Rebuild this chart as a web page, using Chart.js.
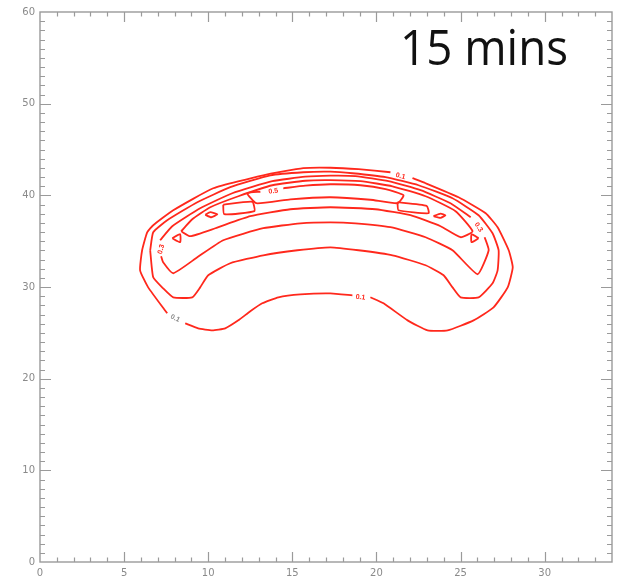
<!DOCTYPE html>
<html>
<head>
<meta charset="utf-8">
<script src="https://cdn.jsdelivr.net/npm/chart.js@4/dist/chart.umd.min.js"></script>
<style>
  html, body { margin: 0; padding: 0; background: #fff; }
  #wrap { width: 620px; height: 577px; }
</style>
</head>
<body>
<div id="wrap"><canvas id="c" width="620" height="577"></canvas></div>
<script>
// Axis tick labels
const xTicks = [0, 5, 10, 15, 20, 25, 30];
const yTicks = [0, 10, 20, 30, 40, 50, 60];

// Contour level 0.1 (outermost, broken where its labels sit)
const level01 = [
  [[8.63,26.04],[9.4,25.49],[10.24,25.27],[11.01,25.49],[11.79,26.36],[12.5,27.35],[13.21,28.22],[14.17,28.88],[15.48,29.2],[17.26,29.31],[18.57,29.09]],
  [[19.64,28.88],[20.42,28.22],[21.85,26.36],[23.04,25.27],[24.23,25.27],[25.77,26.36],[26.96,27.78],[27.8,29.96],[28.1,32.15],[27.86,34.01],[27.2,36.52],[26.49,38.05],[24.88,39.79],[22.92,41.32],[22.14,41.87]],
  [[20.83,42.52],[18.93,42.85],[17.26,43.01],[15.65,42.96],[13.27,42.19],[10.3,40.77],[7.92,38.37],[6.73,36.74],[6.37,35.97],[6.07,34.01],[5.95,31.82],[6.43,29.96],[7.56,27.13]]
];

// Contour level 0.2
const level02 = [
  [[6.55,34.0],[6.73,35.97],[7.56,37.28],[9.35,39.25],[11.31,40.89],[13.69,42.19],[15.65,42.52],[17.26,42.58],[18.57,42.41],[20.54,41.98],[22.5,41.1],[24.52,39.68],[26.07,37.83],[26.9,35.86],[27.26,34.01],[27.2,31.82],[26.9,30.4],[26.07,28.87],[25.0,28.87],[24.52,29.96],[23.99,31.28],[22.92,32.37],[20.95,33.46],[18.93,34.01],[17.26,34.33],[15.3,34.01],[13.27,33.46],[11.31,32.59],[10.0,31.28],[9.52,29.96],[9.05,28.87],[7.92,28.87],[7.32,29.85],[6.73,31.06],[6.55,34.0]]
];

// Contour level 0.3
const level03 = [
  [[7.14,35.1],[7.86,36.63],[9.52,38.59],[11.43,40.23],[13.81,41.54],[15.77,42.03],[17.26,42.14],[18.75,42.09],[20.71,41.54],[22.62,40.56],[24.4,39.14],[25.6,37.61]],
  [[26.43,35.43],[26.67,34.01],[26.01,31.39],[24.52,34.01],[22.92,35.43],[20.83,36.52],[18.75,36.95],[17.26,37.06],[15.48,36.95],[13.27,36.41],[10.89,35.1],[9.35,33.24],[7.92,31.5],[7.32,32.7],[7.2,33.35]]
];

// Contour level 0.4
const level04 = [
  [[8.39,36.08],[9.05,37.39],[10.12,38.7],[11.79,39.9],[13.81,41.1],[15.77,41.59],[17.26,41.65],[19.05,41.54],[20.95,40.99],[22.92,39.9],[24.7,38.27],[25.71,36.08],[25.0,35.43],[23.81,36.63],[22.02,37.83],[19.94,38.48],[17.26,38.7],[14.88,38.48],[12.5,37.72],[10.42,36.41],[8.93,35.54],[8.39,36.08]]
];

// Contour level 0.5 and the small islands along the ridge
const level05 = [
  [[14.46,40.77],[15.77,41.05],[17.26,41.21],[19.05,41.1],[20.54,40.67],[21.61,40.01],[21.25,39.14],[19.64,39.52],[17.26,39.79],[14.88,39.57],[12.86,39.14],[12.32,40.23],[13.1,40.39]],
  [[10.89,38.98],[12.62,39.3],[12.74,38.27],[10.95,37.94],[10.89,38.98]],
  [[21.25,39.25],[22.98,38.86],[23.1,38.05],[21.31,38.37],[21.25,39.25]],
  [[9.82,37.88],[10.12,38.16],[10.54,37.94],[10.18,37.61],[9.82,37.88]],
  [[23.39,37.72],[23.81,38.0],[24.1,37.83],[23.81,37.55],[23.39,37.72]],
  [[7.86,35.32],[8.33,35.76],[8.33,34.88],[7.86,35.32]],
  [[26.07,35.32],[25.65,35.76],[25.65,34.88],[26.07,35.32]]
];

// Contour labels (text and anchor in data units)
const labelText = ['0.1', '0.1', '0.1', '0.3', '0.3', '0.5'];
const labelX    = [8.04, 19.05, 21.43, 7.2, 26.07, 13.87];
const labelY    = [26.58, 28.88, 42.09, 34.12, 36.52, 40.45];
const labelRot  = [25, 6, 15, -75, 55, -8];
const labelGray = [true, false, false, false, false, false];

const RED = 'rgb(255,40,28)';

const datasets = [];
[level01, level02, level03, level04, level05].forEach(level => {
  level.forEach(seg => {
    datasets.push({
      data: seg.map(p => ({ x: p[0], y: p[1] })),
      showLine: true,
      borderColor: RED,
      borderWidth: 1.8,
      pointRadius: 0,
      tension: 0.15,
      fill: false
    });
  });
});

// Plot frame with inward minor/major ticks on all four sides
const framePlugin = {
  id: 'frame',
  beforeDatasetsDraw(chart) {
    const { ctx, chartArea: a, scales: { x, y } } = chart;
    ctx.save();
    ctx.strokeStyle = '#9a9a9a';
    ctx.lineWidth = 1.4;
    ctx.strokeRect(a.left, a.top, a.right - a.left, a.bottom - a.top);
    ctx.lineWidth = 1.2;
    ctx.beginPath();
    for (let v = 1; v < 34; v++) {
      const px = Math.round(x.getPixelForValue(v)) + 0.5;
      const len = v % 5 === 0 ? 10 : 4.5;
      ctx.moveTo(px, a.bottom); ctx.lineTo(px, a.bottom - len);
      ctx.moveTo(px, a.top); ctx.lineTo(px, a.top + len);
    }
    for (let v = 1; v < 60; v++) {
      const py = Math.round(y.getPixelForValue(v)) + 0.5;
      const len = v % 10 === 0 ? 11 : 5;
      ctx.moveTo(a.left, py); ctx.lineTo(a.left + len, py);
      ctx.moveTo(a.right, py); ctx.lineTo(a.right - len, py);
    }
    ctx.stroke();
    ctx.restore();
  },
  afterDatasetsDraw(chart) {
    const { ctx, scales: { x, y } } = chart;
    ctx.save();
    ctx.font = 'bold 7px "Liberation Sans"';
    ctx.textAlign = 'center';
    ctx.textBaseline = 'middle';
    labelText.forEach((t, i) => {
      ctx.save();
      ctx.translate(x.getPixelForValue(labelX[i]), y.getPixelForValue(labelY[i]));
      ctx.rotate(labelRot[i] * Math.PI / 180);
      ctx.fillStyle = labelGray[i] ? '#8a8a8a' : RED;
      ctx.fillText(t, 0, 0);
      ctx.restore();
    });
    ctx.restore();
  },
  afterDraw(chart) {
    const { ctx } = chart;
    ctx.save();
    ctx.fillStyle = '#111';
    ctx.font = '50px "Open Sans"';
    ctx.textAlign = 'left';
    ctx.textBaseline = 'alphabetic';
    ctx.fillText('15 mins', 400, 65, 168);
    ctx.restore();
  }
};

const tickFont = { family: 'DejaVu Sans', size: 10 };

new Chart(document.getElementById('c'), {
  type: 'scatter',
  data: { datasets },
  options: {
    responsive: false,
    animation: false,
    devicePixelRatio: 1,
    layout: { padding: { top: 12, right: 8, left: 0, bottom: 0 } },
    plugins: { legend: { display: false }, tooltip: { enabled: false } },
    scales: {
      x: {
        type: 'linear', min: 0, max: 34,
        afterFit(s) { s.height = 15; },
        afterBuildTicks(s) { s.ticks = xTicks.map(v => ({ value: v })); },
        grid: { display: false, drawTicks: false },
        border: { display: false },
        ticks: { padding: 5, color: '#8a8a8a', font: tickFont, maxRotation: 0, autoSkip: false }
      },
      y: {
        type: 'linear', min: 0, max: 60,
        afterFit(s) { s.width = 40; },
        afterBuildTicks(s) { s.ticks = yTicks.map(v => ({ value: v })); },
        grid: { display: false, drawTicks: false },
        border: { display: false },
        ticks: { padding: 5, color: '#8a8a8a', font: tickFont, autoSkip: false }
      }
    }
  },
  plugins: [framePlugin]
});
</script>
</body>
</html>
